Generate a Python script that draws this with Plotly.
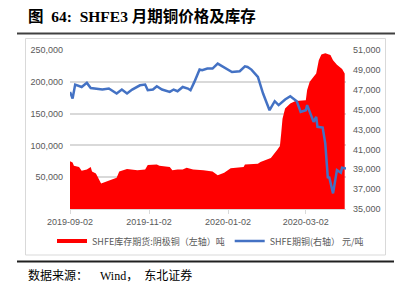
import plotly.graph_objects as go

# ---------------- data ----------------
inv_dates = ["2019-09-02","2019-09-04","2019-09-05","2019-09-09","2019-09-11","2019-09-15","2019-09-18","2019-09-19","2019-09-22","2019-09-24",
             "2019-09-26","2019-10-08","2019-10-10","2019-10-16","2019-10-24","2019-10-30","2019-11-01","2019-11-08","2019-11-10","2019-11-18",
             "2019-11-20","2019-11-24","2019-11-28","2019-12-01","2019-12-06","2019-12-14","2019-12-21","2019-12-25","2019-12-30","2020-01-04",
             "2020-01-14","2020-01-15","2020-01-25","2020-01-27","2020-02-04","2020-02-09","2020-02-11","2020-02-12","2020-02-13","2020-02-15",
             "2020-02-19","2020-02-23","2020-03-02","2020-03-03","2020-03-05","2020-03-08","2020-03-10","2020-03-12","2020-03-14","2020-03-17",
             "2020-03-21","2020-03-23","2020-03-26","2020-03-30","2020-04-01"]
inv_values = [75000,73000,68000,66000,60000,62000,66000,59000,56000,48000,
              40000,49000,59000,63000,61000,62000,69000,70000,68000,66000,
              61000,62000,62000,65000,62000,61000,59000,53000,57000,64000,
              66000,70000,71000,74000,80000,93000,99000,119000,142000,158000,
              166000,170000,171000,187000,200000,208000,213000,234000,243000,245000,
              242000,234000,227000,220000,213000]

price_dates = ["2019-09-02","2019-09-04","2019-09-06","2019-09-11","2019-09-15","2019-09-18","2019-09-27","2019-10-02","2019-10-08","2019-10-12",
               "2019-10-16","2019-10-20","2019-10-26","2019-10-30","2019-11-01","2019-11-05","2019-11-08","2019-11-12","2019-11-18","2019-11-21",
               "2019-11-24","2019-11-28","2019-12-02","2019-12-04","2019-12-07","2019-12-11","2019-12-13","2019-12-17","2019-12-21","2019-12-25",
               "2019-12-26","2020-01-01","2020-01-05","2020-01-11","2020-01-15","2020-01-17","2020-01-20","2020-01-25","2020-01-29","2020-02-03",
               "2020-02-07","2020-02-10","2020-02-15","2020-02-19","2020-02-24","2020-02-27","2020-03-02","2020-03-03","2020-03-05","2020-03-08",
               "2020-03-10","2020-03-11","2020-03-15","2020-03-17","2020-03-19","2020-03-20","2020-03-23","2020-03-26","2020-03-29","2020-03-30",
               "2020-04-02"]
price_values = [46780,46120,47520,47280,47690,47180,47020,47120,46620,47020,
                46620,47020,47450,47520,46950,47020,47350,47020,46780,47020,
                46850,47280,47120,46950,47790,49030,48960,49130,49130,49630,
                49560,49130,48790,48860,49360,49290,49030,48290,46620,44940,
                45850,45450,46020,46350,45850,44770,44940,45450,44770,43770,
                44270,43270,43200,41600,38110,38250,36570,38920,38650,39150,
                39080]

x_tick_vals = ["2019-09-02","2019-11-02","2020-01-02","2020-03-02"]
left_ticks = [50000,100000,150000,200000,250000]
right_ticks = [35000,37000,39000,41000,43000,45000,47000,49000,51000]

inv_name = "SHFE库存期货:阴极铜（左轴）吨"
price_name = "SHFE期铜(右轴） 元/吨"
title_text = "<b>图  64:  SHFE3 月期铜价格及库存</b>"
source_text = "数据来源：\u3000\u00a0\u00a0Wind，\u3000东北证券"

# ---------------- layout geometry ----------------
W, H = 403, 294
L, R, T, B = 70, 57, 50, 85
PW, PH = W - L - R, H - T - B

def px(xp):
    return (xp - L) / PW

def py(yp):
    return (H - B - yp) / PH

gray = "#595959"
tickfont = dict(family="Liberation Sans, Noto Sans CJK SC", size=9, color=gray)

fig = go.Figure()
fig.add_trace(go.Scatter(x=inv_dates, y=inv_values, name=inv_name, mode="lines",
                         fill="tozeroy", fillcolor="#FF0000", line=dict(color="#FF0000", width=0),
                         yaxis="y", showlegend=False))
# legend-only entry giving an Excel-like solid swatch for the area series
fig.add_trace(go.Scatter(x=[None], y=[None], name=inv_name, mode="lines",
                         line=dict(color="#FF0000", width=4), yaxis="y", showlegend=True))
fig.add_trace(go.Scatter(x=price_dates, y=price_values, name=price_name, mode="lines",
                         line=dict(color="#4472C4", width=2.5), yaxis="y2"))

shapes = [
    dict(type="line", xref="paper", yref="paper", x0=px(17), x1=px(395), y0=py(33.5), y1=py(33.5),
         line=dict(color="#404040", width=2)),
    dict(type="rect", xref="paper", yref="paper", x0=px(25.5), x1=px(385.5), y0=py(38.5), y1=py(255),
         line=dict(color="#d9d9d9", width=1)),
    dict(type="line", xref="paper", yref="paper", x0=px(17), x1=px(394), y0=py(261.5), y1=py(261.5),
         line=dict(color="#202020", width=2)),
]

annotations = [
    dict(text=title_text, xref="paper", yref="paper", x=px(26), y=py(16), xanchor="left", yanchor="middle",
         showarrow=False, font=dict(family="Liberation Serif, Noto Sans CJK SC", size=15.5, color="#000000")),
    dict(text=source_text, xref="paper", yref="paper", x=px(26), y=py(275), xanchor="left", yanchor="middle",
         showarrow=False, font=dict(family="Liberation Serif, Noto Sans CJK SC", size=12, color="#000000")),
]

fig.update_layout(
    width=W, height=H, margin=dict(l=L, r=R, t=T, b=B, autoexpand=False),
    paper_bgcolor="white", plot_bgcolor="white",
    showlegend=True,
    legend=dict(orientation="h", x=px(52), xanchor="left", y=py(241), yanchor="middle",
                font=dict(family="Noto Sans CJK SC", size=9, color=gray),
                bgcolor="rgba(0,0,0,0)", itemwidth=30, tracegroupgap=0),
    xaxis=dict(type="date", range=["2019-09-02", "2020-04-02"], tickvals=x_tick_vals, ticktext=x_tick_vals,
               showgrid=False, zeroline=False, showline=True, linecolor="#d9d9d9", linewidth=1,
               ticks="outside", ticklen=4, tickcolor="#d9d9d9", tickfont=tickfont),
    yaxis=dict(range=[0, 250000], tickvals=left_ticks, tickformat=",", showgrid=True, gridcolor="#d9d9d9",
               gridwidth=1.5, zeroline=False, showline=False, ticks="", tickfont=tickfont,
               ticklabelstandoff=6),
    yaxis2=dict(range=[35000, 51000], tickvals=right_ticks, tickformat=",", overlaying="y", side="right",
                showgrid=False, zeroline=False, showline=False, ticks="", tickfont=tickfont,
                ticklabelstandoff=6),
    shapes=shapes, annotations=annotations,
)

fig.write_html("out.html")
